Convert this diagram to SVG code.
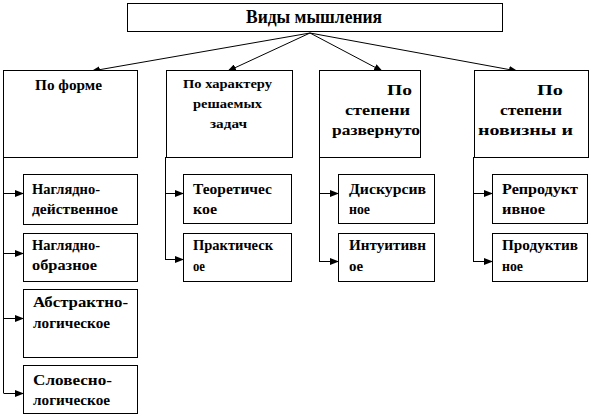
<svg xmlns="http://www.w3.org/2000/svg" width="591" height="416" viewBox="0 0 591 416" font-family="Liberation Serif, DejaVu Serif, serif">
<style>
rect{fill:#fff;stroke:#000;stroke-width:1}
text{font-weight:bold;fill:#000}
.t{font-size:18px}
.h{font-size:15px}
.s{font-size:13px}
.c{font-size:14px}
.ln{stroke:#000;stroke-width:1;fill:none}
</style>
<defs>
<marker id="ah" markerWidth="9" markerHeight="7" refX="8" refY="3.5" orient="auto" markerUnits="userSpaceOnUse">
<path d="M0,0 L9,3.5 L0,7 Z" fill="#000"/>
</marker>
</defs>
<g id="connectors">
<path class="ln" d="M310,33 L92,71" marker-end="url(#ah)"/>
<path class="ln" d="M310,33 L228,71" marker-end="url(#ah)"/>
<path class="ln" d="M310,33 L382,71" marker-end="url(#ah)"/>
<path class="ln" d="M310,33 L517,71" marker-end="url(#ah)"/>
<path class="ln" d="M3.5,157 V393"/>
<path class="ln" d="M3.5,193.5 H23" marker-end="url(#ah)"/>
<path class="ln" d="M3.5,253.5 H23" marker-end="url(#ah)"/>
<path class="ln" d="M3.5,318.5 H23" marker-end="url(#ah)"/>
<path class="ln" d="M3.5,393.5 H23" marker-end="url(#ah)"/>
<path class="ln" d="M165.5,157 V260"/>
<path class="ln" d="M165.5,193.5 H183" marker-end="url(#ah)"/>
<path class="ln" d="M165.5,259.5 H183" marker-end="url(#ah)"/>
<path class="ln" d="M319.5,157 V262"/>
<path class="ln" d="M319.5,193.5 H338" marker-end="url(#ah)"/>
<path class="ln" d="M319.5,261.5 H338" marker-end="url(#ah)"/>
<path class="ln" d="M473.5,157 V262"/>
<path class="ln" d="M473.5,193.5 H492" marker-end="url(#ah)"/>
<path class="ln" d="M473.5,261.5 H492" marker-end="url(#ah)"/>
</g>
<g id="root">
<rect x="127.5" y="3.5" width="375" height="28"/>
<text class="t" x="246" y="23" textLength="136" lengthAdjust="spacingAndGlyphs">Виды мышления</text>
</g>
<g id="form">
<rect x="3.5" y="70.5" width="134" height="87"/>
<text class="h" x="35" y="90" textLength="67" lengthAdjust="spacingAndGlyphs">По форме</text>
</g>
<g id="task">
<rect x="166.5" y="70.5" width="126" height="87"/>
<text class="s" x="183" y="88" textLength="89" lengthAdjust="spacingAndGlyphs">По характеру</text>
<text class="s" x="193" y="108" textLength="69" lengthAdjust="spacingAndGlyphs">решаемых</text>
<text class="s" x="210" y="128" textLength="37" lengthAdjust="spacingAndGlyphs">задач</text>
</g>
<g id="deploy">
<rect x="319.5" y="70.5" width="101" height="87"/>
<text class="h" x="387" y="95" textLength="25" lengthAdjust="spacingAndGlyphs">По</text>
<text class="h" x="345" y="115" textLength="65" lengthAdjust="spacingAndGlyphs">степени</text>
<text class="h" x="332" y="135" textLength="88" lengthAdjust="spacingAndGlyphs">развернуто</text>
</g>
<g id="novelty">
<rect x="474.5" y="70.5" width="114" height="87"/>
<text class="h" x="537" y="95" textLength="26" lengthAdjust="spacingAndGlyphs">По</text>
<text class="h" x="500" y="115" textLength="62" lengthAdjust="spacingAndGlyphs">степени</text>
<text class="h" x="478" y="135" textLength="95" lengthAdjust="spacingAndGlyphs">новизны и</text>
</g>
<g id="visual-action">
<rect x="23.5" y="174.5" width="114" height="50"/>
<text class="c" x="32" y="194" textLength="68" lengthAdjust="spacingAndGlyphs">Наглядно-</text>
<text class="c" x="32" y="214" textLength="86" lengthAdjust="spacingAndGlyphs">действенное</text>
</g>
<g id="visual-image">
<rect x="23.5" y="233.5" width="114" height="48"/>
<text class="c" x="32" y="250" textLength="68" lengthAdjust="spacingAndGlyphs">Наглядно-</text>
<text class="c" x="32" y="270" textLength="65" lengthAdjust="spacingAndGlyphs">образное</text>
</g>
<g id="abstract-logic">
<rect x="23.5" y="289.5" width="114" height="68"/>
<text class="c" x="33" y="307" textLength="95" lengthAdjust="spacingAndGlyphs">Абстрактно-</text>
<text class="c" x="33" y="328" textLength="77" lengthAdjust="spacingAndGlyphs">логическое</text>
</g>
<g id="verbal-logic">
<rect x="23.5" y="365.5" width="114" height="48"/>
<text class="c" x="33" y="385" textLength="79" lengthAdjust="spacingAndGlyphs">Словесно-</text>
<text class="c" x="33" y="405" textLength="77" lengthAdjust="spacingAndGlyphs">логическое</text>
</g>
<g id="theoretical">
<rect x="183.5" y="174.5" width="108" height="49"/>
<text class="c" x="193" y="194" textLength="79" lengthAdjust="spacingAndGlyphs">Теоретичес</text>
<text class="c" x="193" y="214" textLength="24" lengthAdjust="spacingAndGlyphs">кое</text>
</g>
<g id="practical">
<rect x="183.5" y="233.5" width="108" height="48"/>
<text class="c" x="193" y="250" textLength="80" lengthAdjust="spacingAndGlyphs">Практическ</text>
<text class="c" x="193" y="271" textLength="12" lengthAdjust="spacingAndGlyphs">ое</text>
</g>
<g id="discursive">
<rect x="338.5" y="174.5" width="96" height="49"/>
<text class="c" x="349" y="194" textLength="77" lengthAdjust="spacingAndGlyphs">Дискурсив</text>
<text class="c" x="349" y="214" textLength="21" lengthAdjust="spacingAndGlyphs">ное</text>
</g>
<g id="intuitive">
<rect x="338.5" y="233.5" width="96" height="48"/>
<text class="c" x="349" y="250" textLength="77" lengthAdjust="spacingAndGlyphs">Интуитивн</text>
<text class="c" x="349" y="271" textLength="14" lengthAdjust="spacingAndGlyphs">ое</text>
</g>
<g id="reproductive">
<rect x="492.5" y="174.5" width="95" height="49"/>
<text class="c" x="502" y="194" textLength="76" lengthAdjust="spacingAndGlyphs">Репродукт</text>
<text class="c" x="502" y="214" textLength="43" lengthAdjust="spacingAndGlyphs">ивное</text>
</g>
<g id="productive">
<rect x="492.5" y="233.5" width="95" height="48"/>
<text class="c" x="502" y="250" textLength="76" lengthAdjust="spacingAndGlyphs">Продуктив</text>
<text class="c" x="502" y="271" textLength="21" lengthAdjust="spacingAndGlyphs">ное</text>
</g>
</svg>
